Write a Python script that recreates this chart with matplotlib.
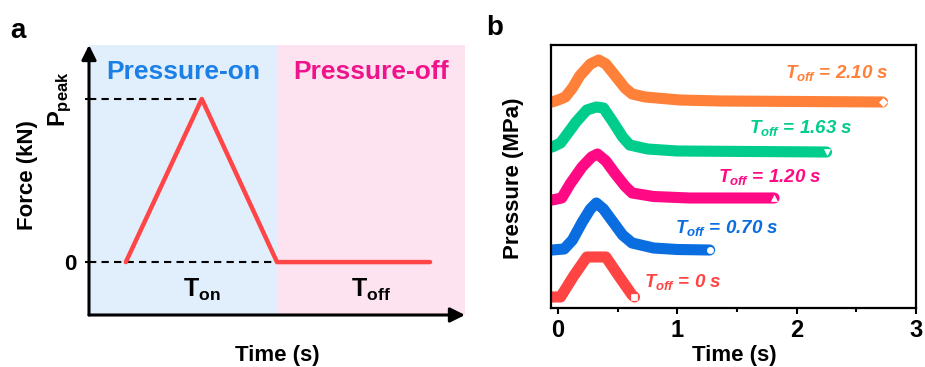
import matplotlib
matplotlib.use("Agg")
import matplotlib.pyplot as plt

plt.rcParams['font.family'] = ['Liberation Sans', 'DejaVu Sans']
plt.rcParams['font.weight'] = 'bold'
plt.rcParams['mathtext.fontset'] = 'custom'
plt.rcParams['mathtext.rm'] = 'Liberation Sans:bold'
plt.rcParams['mathtext.it'] = 'Liberation Sans:italic:bold'
plt.rcParams['mathtext.bf'] = 'Liberation Sans:bold'

# ---------------- data: panel a (schematic) ----------------
schem_time = [0.098, 0.30, 0.50, 0.907]
schem_force = [0.0, 1.0, 0.0, 0.0]
phase_boundary = 0.5

# ---------------- data: panel b ----------------
labels = ["0 s", "0.70 s", "1.20 s", "1.63 s", "2.10 s"]
colors = ["#FF4444", "#0A6EE0", "#FF0A84", "#00CC8C", "#FF8038"]
markers = ["s", "o", "^", "v", "D"]
offsets = [0.22, 1.16, 2.20, 3.12, 4.12]

t_red = [-0.05, 0.02, 0.13, 0.24, 0.40, 0.52, 0.62, 0.64]
p_red = [0.00, 0.00, 0.42, 0.80, 0.80, 0.38, 0.04, 0.00]

t_blue = [-0.05, 0.05, 0.12, 0.20, 0.27, 0.32, 0.38, 0.46, 0.54, 0.62, 0.80, 1.00, 1.27]
p_blue = [0.00, 0.02, 0.20, 0.55, 0.82, 0.94, 0.82, 0.56, 0.30, 0.14, 0.04, 0.01, 0.00]

t_pink = [-0.05, 0.03, 0.10, 0.20, 0.28, 0.33, 0.40, 0.48, 0.56, 0.62, 0.80, 1.10, 1.81]
p_pink = [-0.04, 0.00, 0.28, 0.62, 0.82, 0.88, 0.74, 0.48, 0.24, 0.10, 0.03, 0.00, 0.00]

t_green = [-0.05, 0.02, 0.07, 0.15, 0.24, 0.32, 0.38, 0.46, 0.54, 0.60, 0.75, 1.00, 2.25]
p_green = [0.10, 0.18, 0.34, 0.60, 0.84, 0.90, 0.88, 0.60, 0.30, 0.14, 0.06, 0.02, 0.00]

t_orange = [-0.05, 0.00, 0.06, 0.12, 0.18, 0.27, 0.34, 0.40, 0.48, 0.56, 0.62, 0.73, 1.02, 1.36, 2.72]
p_orange = [0.00, 0.04, 0.10, 0.28, 0.52, 0.76, 0.84, 0.76, 0.52, 0.28, 0.16, 0.10, 0.04, 0.02, 0.00]

series_t = [t_red, t_blue, t_pink, t_green, t_orange]
series_p = [p_red, p_blue, p_pink, p_green, p_orange]

label_x = [0.72, 0.98, 1.34, 1.60, 1.90]
label_y = [0.42, 1.50, 2.52, 3.50, 4.60]

x_ticks = [0, 1, 2, 3]
x_minor = [0.5, 1.5, 2.5]

# ---------------- figure ----------------
fig = plt.figure(figsize=(9.25, 3.67), dpi=100)

# ---- panel a ----
axa = fig.add_axes([89/925, 52/367, 376/925, 270/367])
axa.set_xlim(0, 1)
axa.set_ylim(-0.3245, 1.331)
axa.axvspan(0, phase_boundary, color="#E1EEFB", lw=0, zorder=0)
axa.axvspan(phase_boundary, 1, color="#FDE2EF", lw=0, zorder=0)
for s in axa.spines.values():
    s.set_visible(False)
axa.set_xticks([])
axa.set_yticks([0, 1])
axa.set_yticklabels(["0", ""], fontsize=16, fontweight='bold')
axa.tick_params(axis='y', length=3, width=1.5, pad=6)

axa.plot([0, schem_time[1]], [1, 1], ls=(0, (3.5, 2.5)), color='black', lw=1.5, zorder=2)
axa.plot([0, phase_boundary], [0, 0], ls=(0, (3.5, 2.5)), color='black', lw=1.5, zorder=2)
axa.plot(schem_time, schem_force, color="#FF4545", lw=3.2, solid_capstyle='round', zorder=3)

arrow_kw = dict(arrowstyle='-|>', color='black', lw=2.2, mutation_scale=22, shrinkA=0, shrinkB=0)
axa.annotate('', xy=(0, 1.0), xytext=(0, 0), xycoords='axes fraction', arrowprops=arrow_kw,
             annotation_clip=False)
axa.annotate('', xy=(1.0, 0), xytext=(0, 0), xycoords='axes fraction', arrowprops=arrow_kw,
             annotation_clip=False)

axa.text(0.25, 0.9, "Pressure-on", transform=axa.transAxes, ha='center', va='center',
         fontsize=19, fontweight='bold', color="#1A7FE6")
axa.text(0.75, 0.9, "Pressure-off", transform=axa.transAxes, ha='center', va='center',
         fontsize=19, fontweight='bold', color="#F0148C")
axa.text(0.30, -0.17, r"T$_{\mathrm{on}}$", ha='center', va='center', fontsize=18, fontweight='bold')
axa.text(0.75, -0.17, r"T$_{\mathrm{off}}$", ha='center', va='center', fontsize=18, fontweight='bold')
axa.text(-0.075, 1.0, r"P$_{\mathrm{peak}}$", transform=axa.transData, rotation=90,
         ha='center', va='center', fontsize=17, fontweight='bold')
fig.text(28/925, 1 - 175/367, "Force (kN)", rotation=90, ha='center', va='center',
         fontsize=16, fontweight='bold')
fig.text(277/925, 1 - 355/367, "Time (s)", ha='center', va='center', fontsize=16, fontweight='bold')
fig.text(18/925, 1 - 31/367, "a", ha='center', va='center', fontsize=20, fontweight='bold')

# ---- panel b ----
axb = fig.add_axes([551/925, 59/367, 365/925, 263/367])
axb.set_xlim(-0.06, 3.0)
axb.set_ylim(0, 5.26)
for t, p, off, c, m in zip(series_t, series_p, offsets, colors, markers):
    y = [v + off for v in p]
    axb.plot(t, y, color=c, lw=8, solid_capstyle='round', solid_joinstyle='round', zorder=2)
    axb.plot([t[-1]], [y[-1]], marker=m, ms=4.5, mfc='white', mec='white', mew=0.5, zorder=3)
for lx, ly, lab, c in zip(label_x, label_y, labels, colors):
    axb.text(lx, ly, r"$T_{off}$ = " + lab, color=c, fontsize=13.5, fontweight='bold',
             fontstyle='italic', ha='left', va='baseline')
for s in axb.spines.values():
    s.set_linewidth(1.6)
axb.set_yticks([])
axb.set_xticks(x_ticks)
axb.set_xticks(x_minor, minor=True)
axb.set_xticklabels([str(v) for v in x_ticks], fontsize=17, fontweight='bold')
axb.tick_params(axis='x', which='major', length=4, width=1.5, direction='out', pad=4)
axb.tick_params(axis='x', which='minor', length=3, width=1.5, direction='out')
fig.text(514/925, 1 - 178/367, "Pressure (MPa)", rotation=90, ha='center', va='center',
         fontsize=16, fontweight='bold')
fig.text(734/925, 1 - 355/367, "Time (s)", ha='center', va='center', fontsize=16, fontweight='bold')
fig.text(495/925, 1 - 28/367, "b", ha='center', va='center', fontsize=20, fontweight='bold')

fig.savefig("out.png", dpi=100)
